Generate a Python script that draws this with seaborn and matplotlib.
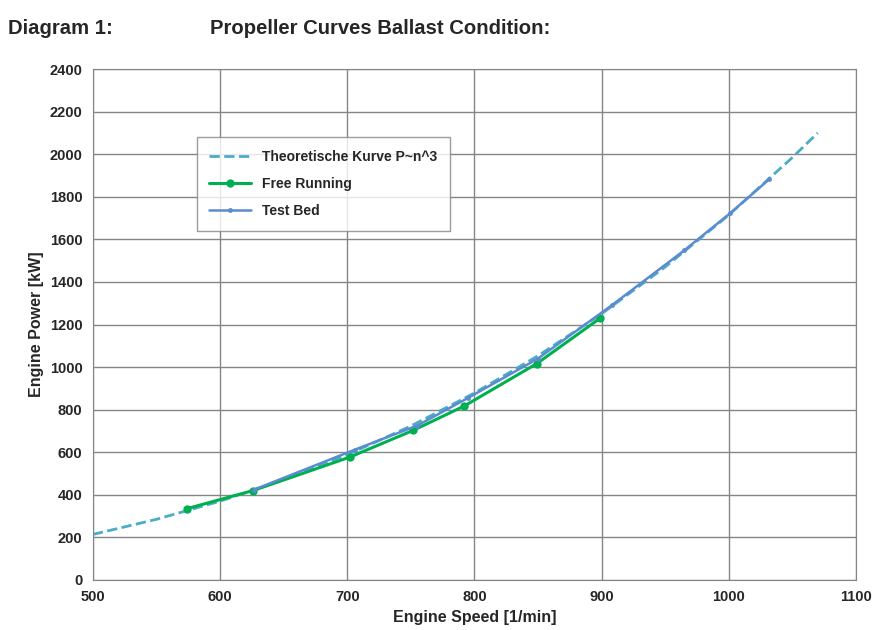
import matplotlib
matplotlib.use("Agg")
from matplotlib import pyplot as plt
import seaborn as sns
import pandas as pd

# Theoretical propeller curve P~n^3
theory_speed = [500, 550, 600, 650, 700, 750, 800, 850, 900, 950, 1000, 1050, 1070]
theory_power = [214, 285, 370, 471, 588, 723, 878, 1053, 1250, 1470, 1714, 1984, 2100]

# Free running measurements
free_speed = [574, 626, 702, 752, 792, 849, 899]
free_power = [335, 420, 577, 703, 817, 1016, 1230]

# Test bed measurements
bed_speed = [627, 706, 755, 795, 850, 908, 965, 1001, 1032]
bed_power = [425, 612, 725, 855, 1040, 1290, 1548, 1722, 1883]

sns.set_style("white")
plt.rcParams['font.family'] = ['Liberation Sans Narrow', 'Liberation Sans', 'DejaVu Sans']

theory = pd.DataFrame({'speed': theory_speed, 'power': theory_power})
free = pd.DataFrame({'speed': free_speed, 'power': free_power})
bed = pd.DataFrame({'speed': bed_speed, 'power': bed_power})

fig = plt.figure(figsize=(8.76, 6.3), dpi=100)
ax = fig.add_axes([0.106, 0.0794, 0.871, 0.811])

sns.lineplot(data=theory, x='speed', y='power', ax=ax, color='#4bacc6',
             linestyle='--', linewidth=2, label='Theoretische Kurve P~n^3',
             sort=False, zorder=2)
sns.lineplot(data=free, x='speed', y='power', ax=ax, color='#00b050',
             linewidth=2.2, marker='o', markersize=6, markeredgewidth=0,
             label='Free Running', sort=False, zorder=3)
sns.lineplot(data=bed, x='speed', y='power', ax=ax, color='#5b8bd0',
             linewidth=1.8, marker='o', markersize=3.5, markeredgewidth=0,
             label='Test Bed', sort=False, zorder=4)

ax.set_xlim(500, 1100)
ax.set_ylim(0, 2400)
ax.set_xticks(range(500, 1101, 100))
ax.set_yticks(range(0, 2401, 200))
ax.grid(True, color='#858585', linewidth=1)
for s in ax.spines.values():
    s.set_color('#858585')
ax.tick_params(axis='both', labelsize=10.5, length=4, color='#858585')
for lab in ax.get_xticklabels() + ax.get_yticklabels():
    lab.set_fontweight('bold')

ax.set_xlabel('Engine Speed [1/min]', fontsize=11.5, fontweight='bold')
ax.set_ylabel('Engine Power [kW]', fontsize=11.5, fontweight='bold')

leg = ax.legend(loc='upper left', bbox_to_anchor=(0.127, 0.88),
                frameon=True, fancybox=False, edgecolor='#858585',
                prop={'weight': 'bold', 'size': 10}, borderpad=0.9,
                labelspacing=0.95, handlelength=3.0)
leg.get_frame().set_linewidth(1)

fig.text(0.009, 0.955, 'Diagram 1:', fontsize=14.6, fontweight='bold', va='center')
fig.text(0.24, 0.955, 'Propeller Curves Ballast Condition:', fontsize=14.6,
         fontweight='bold', va='center')

plt.savefig('out.png', dpi=100)
plt.close()
